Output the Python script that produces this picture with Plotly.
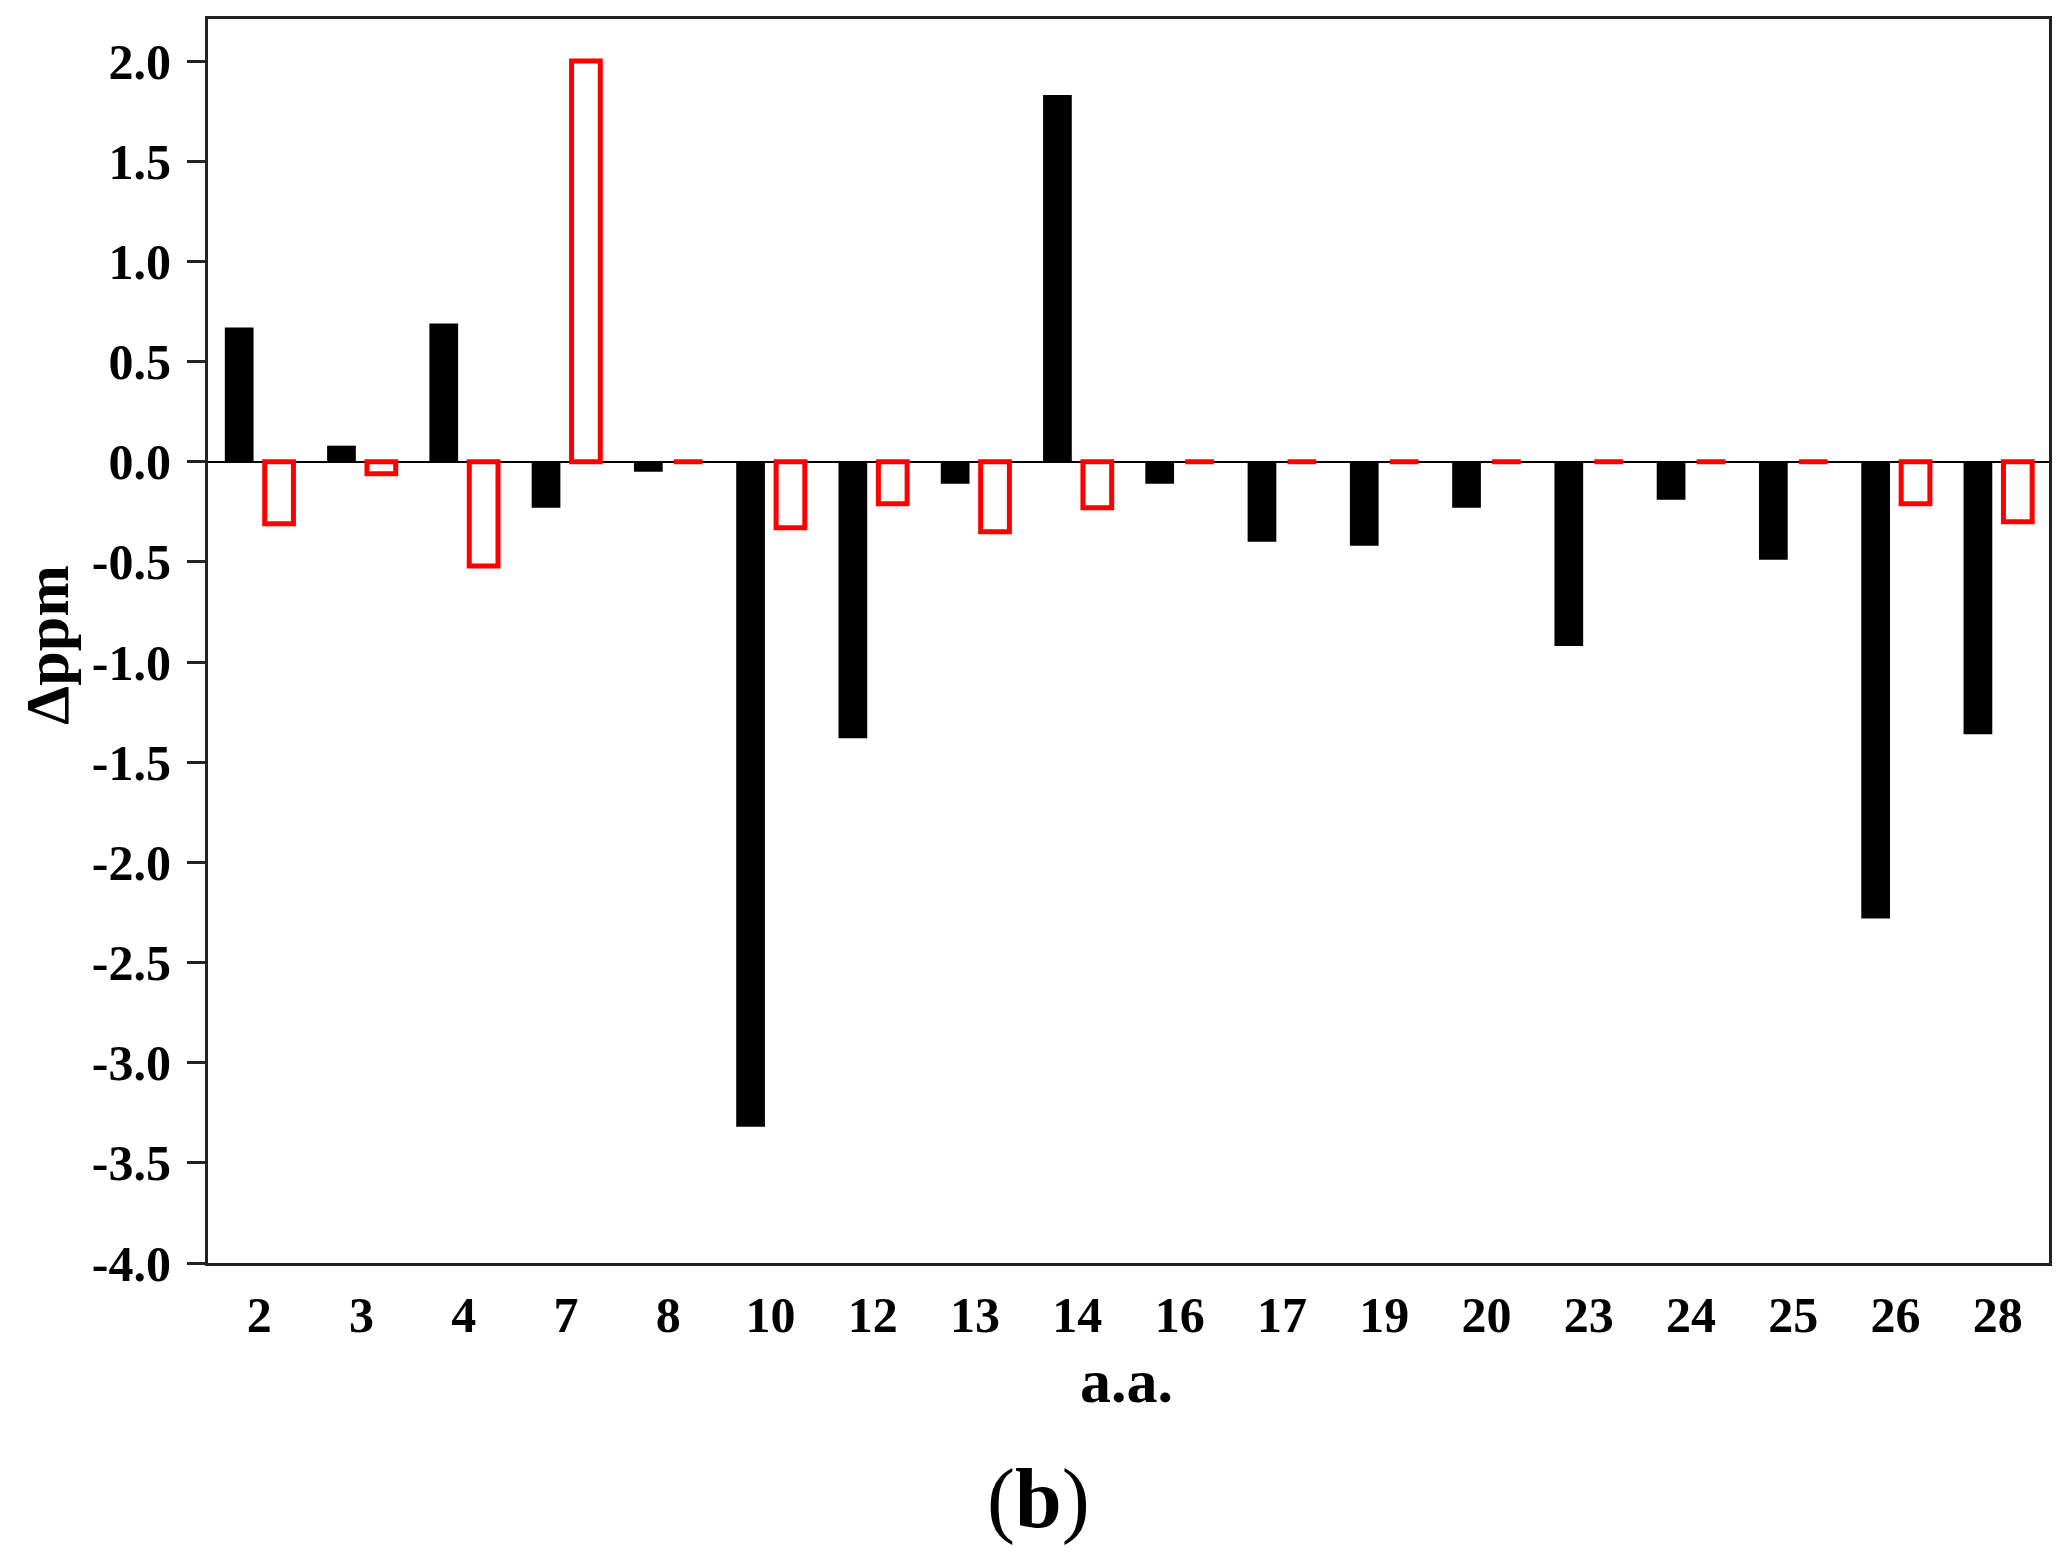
import plotly.graph_objects as go

# residue numbers (a.a.) on the x axis
residues = ["2", "3", "4", "7", "8", "10", "12", "13", "14", "16",
            "17", "19", "20", "23", "24", "25", "26", "28"]

# chemical shift differences
delta_black = [0.67, 0.08, 0.69, -0.23, -0.05, -3.32, -1.38, -0.11, 1.83, -0.11,
               -0.40, -0.42, -0.23, -0.92, -0.19, -0.49, -2.28, -1.36]
delta_red = [-0.31, -0.06, -0.52, 2.00, 0.0, -0.33, -0.21, -0.35, -0.23, 0.0,
             0.0, 0.0, 0.0, 0.0, 0.0, 0.0, -0.21, -0.30]

y_ticks = [2.0, 1.5, 1.0, 0.5, 0.0, -0.5, -1.0, -1.5, -2.0, -2.5, -3.0, -3.5, -4.0]
y_ticktext = ["{:.1f}".format(v) for v in y_ticks]

serif = "Liberation Serif"

fig = go.Figure()
fig.add_trace(go.Bar(x=residues, y=delta_black, marker=dict(color="black", line=dict(width=0)),
                     showlegend=False))
fig.add_trace(go.Bar(x=residues, y=delta_red,
                     marker=dict(color="white", line=dict(color="#ff0000", width=5)),
                     showlegend=False))

# page body has an 8px margin, so the figure is 8px smaller than the window
fig.update_layout(
    width=2057, height=1544,
    margin=dict(l=200, r=16, t=8, b=289),
    paper_bgcolor="white", plot_bgcolor="white",
    barmode="group", bargap=0.22, bargroupgap=0.28,
    font=dict(family=serif, color="black"),
)

fig.update_xaxes(
    type="category", showgrid=False,
    showline=True, linecolor="#222", linewidth=3, mirror=True,
    ticks="", ticklabelstandoff=6,
    tickfont=dict(family=serif, size=50, weight="bold"),
)
fig.update_yaxes(
    range=[-4.0, 2.21], showgrid=False,
    showline=True, linecolor="#222", linewidth=3, mirror=True,
    ticks="outside", ticklen=18, tickwidth=3, tickcolor="#222",
    tickvals=y_ticks, ticktext=y_ticktext, ticklabelstandoff=6,
    tickfont=dict(family=serif, size=50, weight="bold"),
    zeroline=True, zerolinecolor="black", zerolinewidth=2,
)

fig.add_annotation(text="<b>Δppm</b>", xref="paper", yref="paper", x=-0.0875, y=0.497,
                   xanchor="center", yanchor="middle", textangle=-90, showarrow=False,
                   font=dict(family=serif, size=62, color="black"))
fig.add_annotation(text="<b>a.a.</b>", xref="paper", yref="paper", x=0.499, y=-0.095,
                   xanchor="center", yanchor="middle", showarrow=False,
                   font=dict(family=serif, size=62, color="black"))
fig.add_annotation(text="(<b>b</b>)", xref="paper", yref="paper", x=0.451, y=-0.19,
                   xanchor="center", yanchor="middle", showarrow=False,
                   font=dict(family=serif, size=84, color="black"))

fig.write_html("out.html")
